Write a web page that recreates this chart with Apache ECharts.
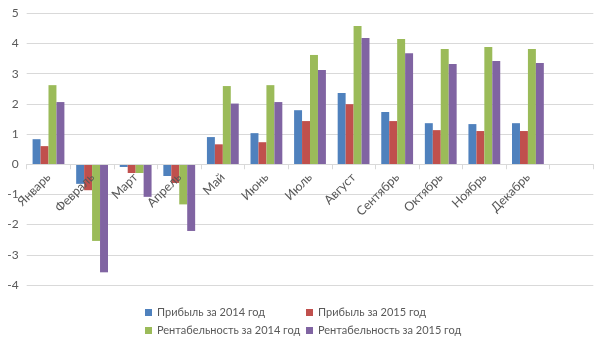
<!DOCTYPE html>
<html><head><meta charset="utf-8">
<script src="https://cdn.jsdelivr.net/npm/echarts@6/dist/echarts.min.js"></script>
<style>html,body{margin:0;padding:0;background:#fff}#c{width:605px;height:340px}</style>
</head><body><div id="c"></div>
<script>
const categories = ['Январь','Февраль','Март','Апрель','Май','Июнь','Июль','Август','Сентябрь','Октябрь','Ноябрь','Декабрь',''];
const profit2014 = [0.83,-0.65,-0.09,-0.39,0.90,1.03,1.79,2.36,1.73,1.36,1.33,1.36,null];
const profit2015 = [0.60,-0.86,-0.29,-0.62,0.66,0.73,1.43,1.99,1.43,1.13,1.10,1.10,null];
const rent2014 = [2.62,-2.54,-0.29,-1.33,2.59,2.62,3.62,4.58,4.15,3.82,3.88,3.82,null];
const rent2015 = [2.06,-3.58,-1.08,-2.21,2.01,2.06,3.12,4.18,3.68,3.32,3.42,3.35,null];
const seriesNames = ['Прибыль за 2014 год','Прибыль за 2015 год','Рентабельность за 2014 год','Рентабельность за 2015 год'];
const yTicks = {min:-4, max:5, interval:1};

const colors = ['#4f81bd','#c0504d','#9bbb59','#8064a2'];
const font = 'Lato, "Liberation Sans", sans-serif';
const chart = echarts.init(document.getElementById('c'));
const dataSets = [profit2014, profit2015, rent2014, rent2015];
const legendPos = [[145,307],[306,307],[145,325],[306,325]];
const gridTop = 13.3, gridBottom = 55, H = 340;
const plotH = H - gridTop - gridBottom;
const zeroOffset = -(0 - yTicks.min) / (yTicks.max - yTicks.min) * plotH;
chart.setOption({
  animation:false,
  backgroundColor:'#ffffff',
  color: colors,
  textStyle:{fontFamily:font},
  grid:{left:26.7, right:11.7, top:gridTop, bottom:gridBottom, containLabel:false},
  legend: seriesNames.map((n,i)=>({
    data:[n], left:legendPos[i][0], top:legendPos[i][1],
    icon:'rect', itemWidth:7, itemHeight:7, itemGap:4,
    textStyle:{fontFamily:font, fontSize:11, color:'#595959', padding:[0,0,0,0]},
    padding:0
  })),
  xAxis:{
    type:'category', data:categories,
    offset: zeroOffset,
    zlevel: 1,
    axisLine:{onZero:false, lineStyle:{color:'#d9d9d9', width:1}},
    axisTick:{show:true, length:5, lineStyle:{color:'#d9d9d9'}},
    axisLabel:{rotate:45, fontSize:12.5, color:'#595959', fontFamily:font, margin:11, interval:0},
    splitLine:{show:false}
  },
  yAxis:{
    type:'value', min:yTicks.min, max:yTicks.max, interval:yTicks.interval,
    axisLine:{show:false}, axisTick:{show:false},
    axisLabel:{fontSize:12, color:'#595959', fontFamily:font, margin:8},
    splitLine:{lineStyle:{color:'#d9d9d9', width:1}}
  },
  series: dataSets.map((d,i)=>({
    name:seriesNames[i], type:'bar', data:d,
    barGap:'0%', barCategoryGap:'27%'
  }))
});
</script></body></html>
